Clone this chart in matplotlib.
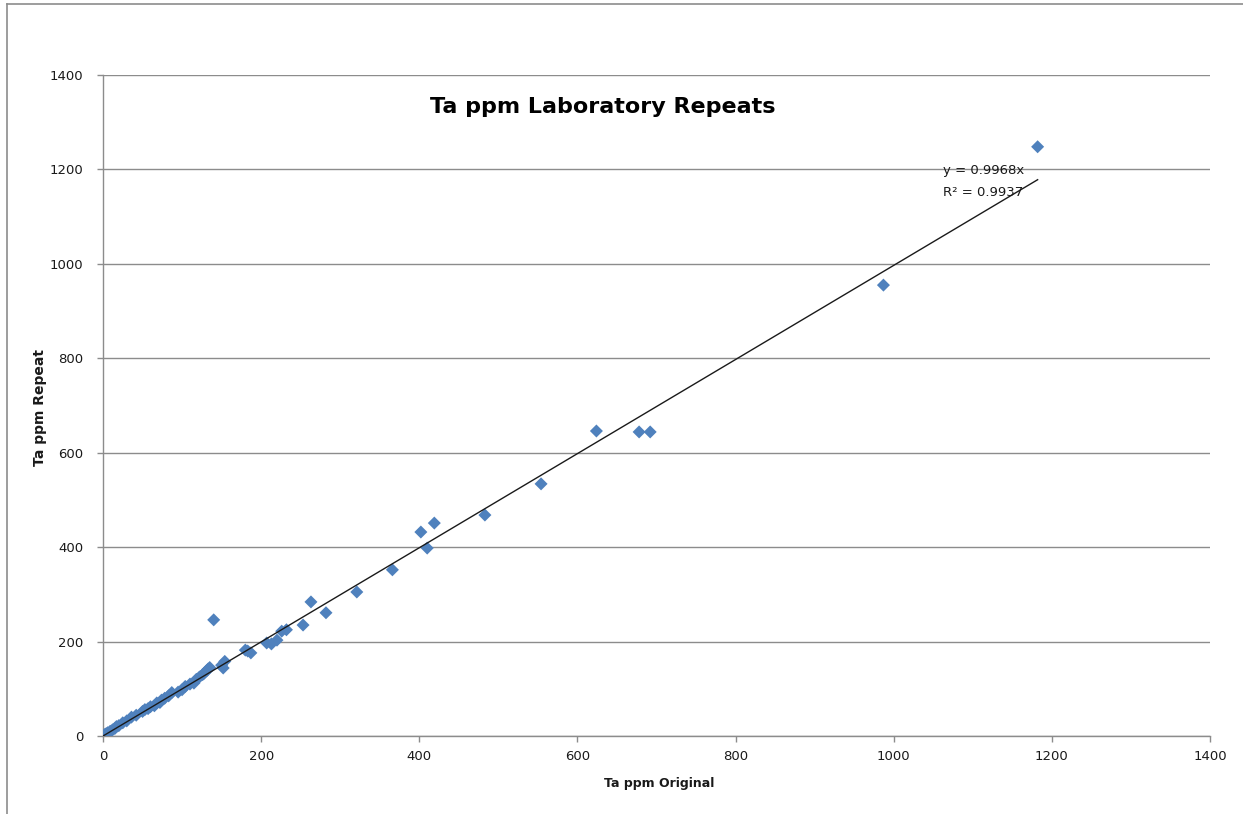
import matplotlib
matplotlib.use("Agg")
import matplotlib.pyplot as plt
from matplotlib.lines import Line2D
import numpy as np

# Data (Ta ppm: original vs repeat)
original = [0, 2, 4, 6, 9, 12, 15, 17, 20, 25, 30, 36, 42, 50, 53, 57, 60, 65,
            68, 72, 74, 78, 83, 87, 95, 100, 104, 110, 115, 118, 122, 126, 128,
            131, 133, 135, 140, 150, 152, 154, 180, 183, 187, 207, 213, 220,
            226, 232, 253, 263, 282, 321, 366, 402, 410, 419, 483, 554, 624,
            678, 692, 987, 1182]
repeat = [0, 3, 5, 7, 10, 13, 16, 20, 22, 28, 32, 40, 44, 52, 56, 58, 62, 64,
          70, 71, 76, 80, 85, 92, 93, 98, 105, 110, 112, 120, 125, 130, 133,
          138, 142, 145, 246, 150, 144, 158, 182, 180, 176, 197, 195, 203,
          222, 225, 235, 284, 261, 305, 352, 432, 398, 451, 468, 534, 646,
          644, 644, 955, 1248]
slope = 0.9968
r_squared = 0.9937

title = "Ta ppm Laboratory Repeats"
xlabel = "Ta ppm Original"
ylabel = "Ta ppm Repeat"
ticks = [0, 200, 400, 600, 800, 1000, 1200, 1400]

W, H = 1243, 814
fig = plt.figure(figsize=(W / 100, H / 100), dpi=100)
ax = fig.add_axes([103 / W, 1 - 736 / H, (1210 - 103) / W, (736 - 75) / H])

ax.set_xlim(0, 1400)
ax.set_ylim(0, 1400)
ax.set_xticks(ticks)
ax.set_yticks(ticks)
ax.grid(axis="y", color="#8c8c8c", linewidth=1.0)
ax.set_axisbelow(True)
for side in ["top", "right"]:
    ax.spines[side].set_visible(False)
for side in ["left", "bottom"]:
    ax.spines[side].set_color("#8c8c8c")
    ax.spines[side].set_linewidth(1.0)
ax.tick_params(axis="both", colors="#8c8c8c", length=4, width=1.0,
               labelcolor="#1a1a1a", labelsize=9.5)
ax.tick_params(axis="x", pad=6)
ax.tick_params(axis="y", pad=10)

ax.scatter(original, repeat, marker="D", s=44, color="#4F81BD",
           edgecolors="none", zorder=3)

xs = np.array([0, max(original)])
ax.plot(xs, slope * xs, color="#1a1a1a", linewidth=1.0, zorder=4)

ax.text(1062, 1197, f"y = {slope:.4f}x", fontsize=9.5, color="#1a1a1a",
        va="center", ha="left", zorder=5)
ax.text(1062, 1152, f"R² = {r_squared:.4f}", fontsize=9.5, color="#1a1a1a",
        va="center", ha="left", zorder=5)

fig.text(603 / W, 1 - 107 / H, title, fontsize=16, fontweight="bold",
         ha="center", va="center", color="#000000")
fig.text(659 / W, 1 - 783 / H, xlabel, fontsize=9, fontweight="bold",
         ha="center", va="center", color="#1a1a1a")
fig.text(40 / W, 1 - 407 / H, ylabel, fontsize=10, fontweight="bold",
         ha="center", va="center", rotation=90, color="#1a1a1a")

# chart-area border (top and left visible in reference)
fig.add_artist(Line2D([7 / W, 7 / W], [0, 1 - 4 / H], color="#8c8c8c",
                      linewidth=1.2, transform=fig.transFigure))
fig.add_artist(Line2D([7 / W, 1], [1 - 4 / H, 1 - 4 / H], color="#8c8c8c",
                      linewidth=1.2, transform=fig.transFigure))

fig.savefig("out.png", dpi=100)
